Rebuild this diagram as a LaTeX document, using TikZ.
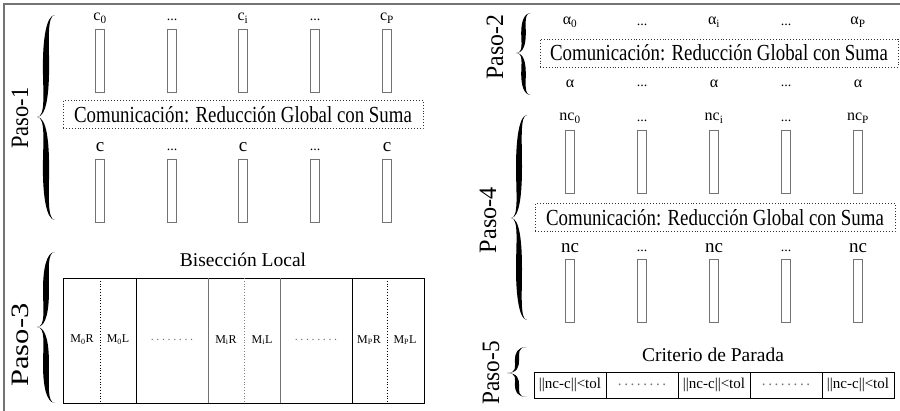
\documentclass[tikz,border=0pt]{standalone}
\usepackage{fontspec}
\setmainfont{Liberation Serif}
\usepackage{graphicx}
% horizontal squeeze / stretch of a piece of text
\newcommand\hsq[2]{\scalebox{#1}[1]{#2}}
% gray dotted filler used inside the table cells
\newcommand\celldots{\textcolor{black!55}{.\hspace{2.6pt}.\hspace{2.6pt}.\hspace{2.6pt}.\hspace{2.6pt}.\hspace{2.6pt}.\hspace{2.6pt}.\hspace{2.6pt}.}}
% filled curly brace: #1 end x, #2 tip x, #3 top y, #4 tip y, #5 bottom y, #6 half thickness
\newcommand\bracefill[6]{%
  \pgfmathsetmacro\bxs{(#1+#2)/2}%
  \pgfmathsetmacro\bya{(#3+#4)/2}%
  \pgfmathsetmacro\byb{(#4+#5)/2}%
  \pgfmathsetmacro\bea{0.25*(#4-#3)}%
  \pgfmathsetmacro\beb{0.25*(#5-#4)}%
  \fill (#1,#3) .. controls (\bxs,#3) and ({\bxs-#6},{#3+\bea}) .. ({\bxs-#6},\bya)
    .. controls ({\bxs-#6},{#4-\bea}) and (\bxs,#4) .. (#2,#4)
    .. controls (\bxs,#4) and ({\bxs-#6},{#4+\beb}) .. ({\bxs-#6},\byb)
    .. controls ({\bxs-#6},{#5-\beb}) and (\bxs,#5) .. (#1,#5)
    .. controls ({\bxs+0.3*#6},#5) and ({\bxs+#6},{#5-\beb}) .. ({\bxs+#6},\byb)
    .. controls ({\bxs+#6},{#4+\beb}) and ({\bxs+0.3*#6},#4) .. (#2,#4)
    .. controls ({\bxs+0.3*#6},#4) and ({\bxs+#6},{#4-\bea}) .. ({\bxs+#6},\bya)
    .. controls ({\bxs+#6},{#3+\bea}) and ({\bxs+0.3*#6},#3) .. (#1,#3) -- cycle;}
\begin{document}
\begin{tikzpicture}[x=1pt,y=-1pt,
  frameline/.style={draw=black!55, line width=1.3pt},
  pasolab/.style={rotate=90, inner sep=0pt, font=\fontsize{25}{25}\selectfont},
  bar/.style={draw=black!55, line width=0.7pt, minimum width=9pt, minimum height=63pt, inner sep=0pt},
  commbox/.style={draw=black!80, dotted, line width=0.9pt, inner sep=0pt, minimum height=28pt,
    font=\fontsize{23}{23}\selectfont},
  toplab/.style={inner sep=0pt, font=\fontsize{16}{16}\selectfont},
  biglab/.style={inner sep=0pt, font=\fontsize{19}{19}\selectfont},
  dotslab/.style={inner sep=0pt, font=\fontsize{14}{14}\selectfont},
  title/.style={inner sep=0pt, font=\fontsize{19.5}{19.5}\selectfont},
  celltext/.style={inner sep=0pt, font=\fontsize{12}{12}\selectfont},
  crit/.style={inner sep=0pt, font=\fontsize{15}{15}\selectfont},
  tabline/.style={draw=black, line width=0.8pt},
  graydiv/.style={draw=black!55, line width=0.8pt},
  halfline/.style={draw=black, dotted, line width=0.8pt},
]
\fill[white] (0,0) rectangle (900,411);
\useasboundingbox (0,0) rectangle (900,411);

% outer frame (top and left edges)
\draw[frameline] (4,415) -- (4,4) -- (904,4);

% ---------------- Paso-1 ----------------
\node[pasolab] (p1) at (20,118) {\hsq{0.9}{Paso-1}};
\bracefill{55}{37}{15}{117}{220}{3.1}
\foreach \xx/\lbl [count=\k] in {100/c\textsubscript{0},243/c\textsubscript{i},387/c\textsubscript{P}}
  \node[toplab] (ca\k) at (\xx,18) {\lbl};
\foreach \xx [count=\k] in {172,315}
  \node[dotslab] (cad\k) at (\xx,20) {...};
\foreach \xx [count=\k] in {100,172,243,315,387} {
  \node[bar] (ba\k) at (\xx,60.5) {};
  \node[bar] (bb\k) at (\xx,190.5) {};
}
\node[commbox, minimum width=360pt] (com1) at (243,114.5)
  {\hsq{0.82}{Comunicación: Reducción Global con Suma}};
\foreach \xx [count=\k] in {100,243,387}
  \node[biglab] (cb\k) at (\xx,147) {c};
\foreach \xx [count=\k] in {172,315}
  \node[dotslab] (cbd\k) at (\xx,150) {...};

% ---------------- Paso-3 ----------------
\node[pasolab] (p3) at (20,345) {\hsq{1.22}{Paso-3}};
\bracefill{55}{37}{252}{327}{403}{3.0}
\node[title] (bis) at (243,260) {Bisección Local};
\draw[tabline] (63,278) rectangle (424,403);
\foreach \xx in {136,352} \draw[tabline] (\xx,278) -- (\xx,403);
\foreach \xx in {208,280} \draw[graydiv] (\xx,278) -- (\xx,403);
\draw[halfline] (100,278) -- (100,403);
\draw[halfline, draw=black!50] (244,278) -- (244,403);
\draw[halfline] (387,278) -- (387,403);
\node[celltext] (m0r) at (82,340) {M\textsubscript{0}R};
\node[celltext] (m0l) at (118,340) {M\textsubscript{0}L};
\node[celltext] (d1) at (172,340) {\celldots};
\node[celltext] (mir) at (226,340) {M\textsubscript{i}R};
\node[celltext] (mil) at (262,340) {M\textsubscript{i}L};
\node[celltext] (d2) at (316,340) {\celldots};
\node[celltext] (mpr) at (369,340) {M\textsubscript{P}R};
\node[celltext] (mpl) at (405,340) {M\textsubscript{P}L};

% ---------------- Paso-2 ----------------
\node[pasolab] (p2) at (495,47) {\hsq{0.95}{Paso-2}};
\bracefill{531}{516}{13}{53}{95}{2.3}
\foreach \xx/\lbl [count=\k] in {570/α\textsubscript{0},714/α\textsubscript{i},858/α\textsubscript{P}}
  \node[toplab] (aa\k) at (\xx,22) {\lbl};
\foreach \xx [count=\k] in {642,786}
  \node[dotslab] (aad\k) at (\xx,25) {...};
\node[commbox, minimum width=358pt] (com2) at (719,53)
  {\hsq{0.82}{Comunicación: Reducción Global con Suma}};
\foreach \xx [count=\k] in {570,714,858}
  \node[toplab] (ab\k) at (\xx,84) {α};
\foreach \xx [count=\k] in {642,786}
  \node[dotslab] (abd\k) at (\xx,86) {...};

% ---------------- Paso-4 ----------------
\node[pasolab] (p4) at (488,220) {\hsq{0.97}{Paso-4}};
\bracefill{527}{511}{115}{218}{320}{3.0}
\foreach \xx/\lbl [count=\k] in {570/nc\textsubscript{0},714/nc\textsubscript{i},858/nc\textsubscript{P}}
  \node[toplab] (na\k) at (\xx,118) {\lbl};
\foreach \xx [count=\k] in {642,786}
  \node[dotslab] (nad\k) at (\xx,121) {...};
\foreach \xx [count=\k] in {570,642,714,786,858} {
  \node[bar] (bc\k) at (\xx,161.5) {};
  \node[bar] (bd\k) at (\xx,291) {};
}
\node[commbox, minimum width=360pt] (com3) at (715,217.5)
  {\hsq{0.82}{Comunicación: Reducción Global con Suma}};
\foreach \xx [count=\k] in {570,714,858}
  \node[biglab] (nb\k) at (\xx,248) {nc};
\foreach \xx [count=\k] in {642,786}
  \node[dotslab] (nbd\k) at (\xx,251) {...};

% ---------------- Paso-5 ----------------
\node[pasolab] (p5) at (491,373) {\hsq{0.93}{Paso-5}};
\bracefill{527}{507}{347}{373}{397}{2.1}
\node[title] (crit) at (713,355) {Criterio de Parada};
\draw[tabline] (534,372) rectangle (894,398);
\foreach \xx in {606,678,750,822} \draw[tabline] (\xx,372) -- (\xx,398);
\node[crit] (t1) at (570,385) {||nc-c||<tol};
\node[crit] (t2) at (642,385) {\celldots};
\node[crit] (t3) at (714,385) {||nc-c||<tol};
\node[crit] (t4) at (786,385) {\celldots};
\node[crit] (t5) at (858,385) {||nc-c||<tol};
\end{tikzpicture}
\end{document}
